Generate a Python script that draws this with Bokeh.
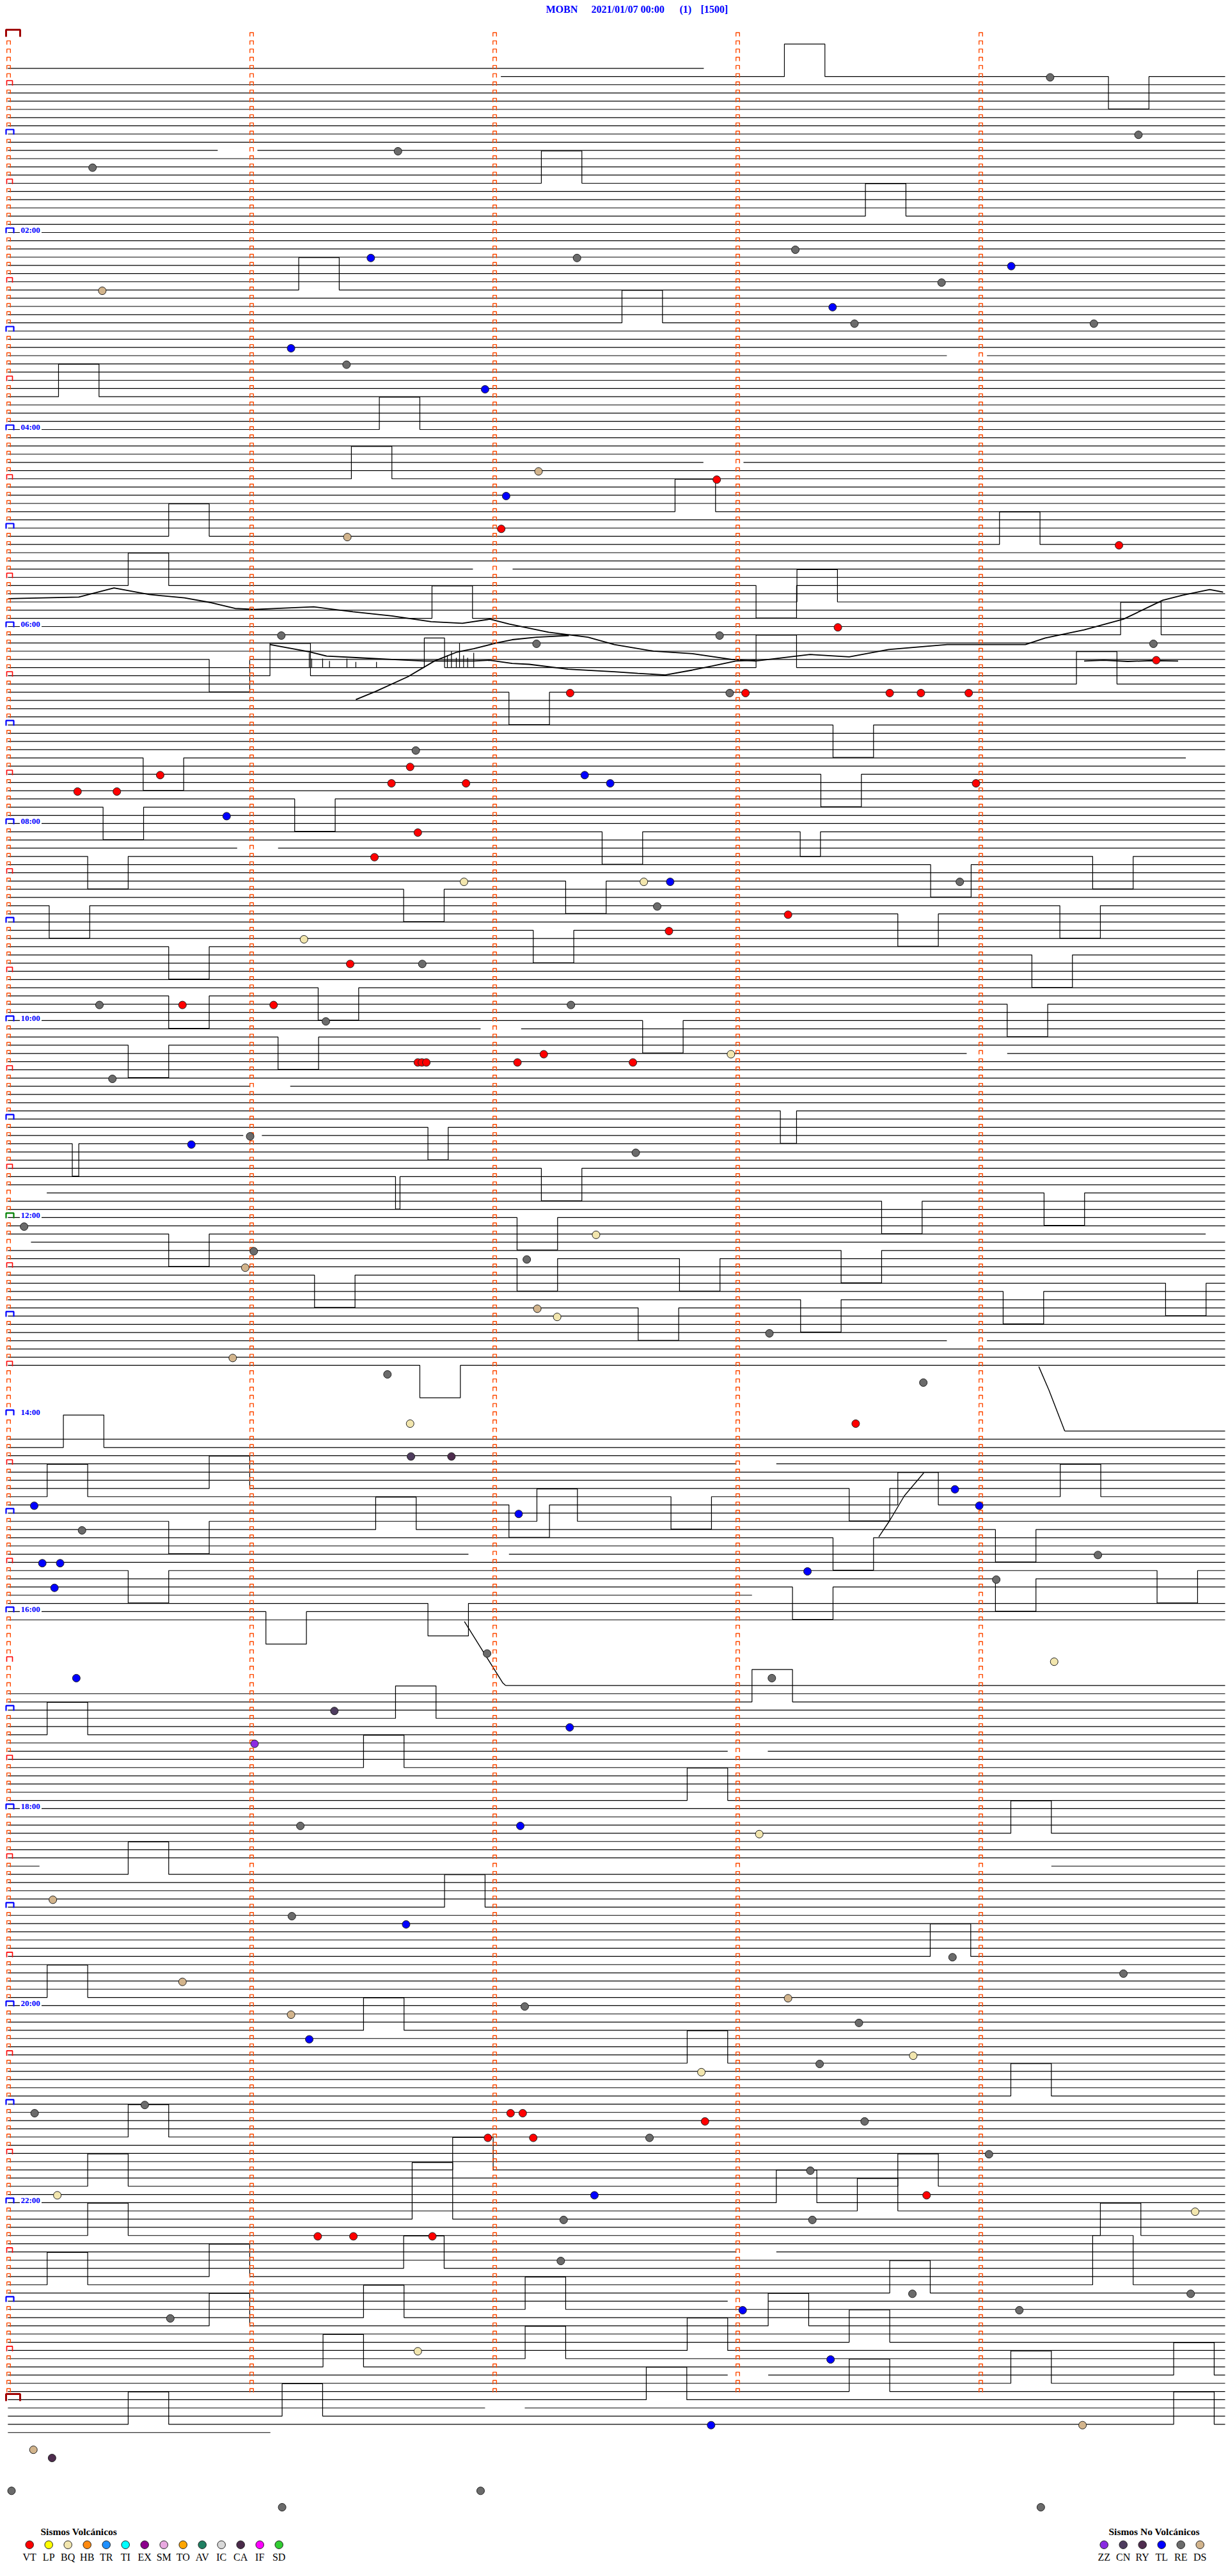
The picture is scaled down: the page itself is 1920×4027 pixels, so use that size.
from bokeh.plotting import figure
from bokeh.models import Range1d
from bokeh.embed import file_html
from bokeh.resources import INLINE
from bokeh.core.properties import value

# ---------------------------------------------------------------- data
TITLE_PARTS = ["MOBN", "2021/01/07 00:00", "(1)", "[1500]"]
ROW_SECONDS = 300                      # each trace row = 5 minutes
ROW_FIRST, ROW_LAST = 4, 292
MISSING_ROWS = list(range(163, 170)) + list(range(194, 201))
PARTIAL_ROWS = {4: [(-0.5, 171.3)], 5: [(121.2, 300)], 88: [(-0.5, 290.3)],
                141: [(9.1, 300)], 146: [(-0.5, 295.2)], 147: [(5.2, 300)],
                170: [(260.4, 300)], 190: [(-0.5, 183.2)], 201: [(122.4, 300)],
                223: [(-0.5, 7.3), (257.1, 300)], 292: [(-0.5, 64.3)]}
GAPS = [(14, 51.3, 61.1), (65, 114.3, 124.1), (99, 56.1, 66.2), (39, 231.3, 241.2),
        (52, 171.2, 181.1), (121, 116.2, 126.2), (128, 59.2, 69.2), (134, 57.6, 62.2),
        (124, 236.2, 246.2), (159, 231.3, 241.2), (174, 179.2, 189.2), (185, 113.2, 123.2),
        (209, 177.2, 187.1), (270, 179.2, 189.2), (276, 177.2, 187.2), (285, 177.2, 187.2),
        (289, 117.3, 127.1)]
# calibration-like pulses: (row, start second)
BOXES_UP = [(18, 131.2), (31, 71.3), (44, 12.0), (48, 91.2), (54, 84.3), (61, 39.2), (67, 29.2),
            (71, 104.2), (5, 191.2), (22, 211.2), (35, 151.1), (58, 164.2), (62, 244.3), (69, 194.3),
            (73, 274.2), (77, 184.2), (79, 263.3), (78, 64.2),
            (172, 13.2), (178, 9.2), (177, 49.2), (182, 90.3), (181, 130.1), (178, 259.3), (179, 219.2),
            (205, 95.2), (207, 9.2), (211, 87.3), (224, 29.2), (228, 107.3), (239, 9.2), (243, 87.3),
            (256, 29.2), (262, 19.2), (260, 109.3), (268, 19.2), (272, 97.2), (274, 9.2), (273, 49.2),
            (277, 127.2), (278, 87.3), (279, 49.2), (284, 77.3), (283, 127.2), (291, 29.2), (290, 67.2),
            (203, 183.2), (215, 167.2), (219, 247.1), (234, 227.2), (247, 167.2), (251, 247.1),
            (264, 189.2), (265, 209.2), (262, 219.2), (268, 269.2), (275, 217.2), (279, 187.2),
            (281, 207.2), (282, 167.2), (285, 287.3), (286, 247.1), (287, 207.2), (288, 157.1),
            (291, 287.3)]
BOXES_DOWN = [(76, 49.2), (80, 123.2), (88, 32.9), (94, 23.0), (93, 70.3), (5, 271.2), (67, 184.2),
              (84, 203.2), (90, 200.2), (97, 146.2),
              (100, 19.2), (104, 97.2), (103, 137.2), (106, 9.7), (111, 39.2), (109, 129.2),
              (117, 39.2), (116, 76.1), (123, 29.2), (122, 66.2), (138, 131.2), (144, 125.2),
              (149, 125.2), (146, 39.2), (151, 75.2), (162, 101.2), (179, 123.2), (181, 39.2),
              (187, 29.2), (192, 63.2), (191, 103.2),
              (101, 227.3), (100, 267.3), (107, 219.2), (106, 259.2), (112, 252.3), (120, 156.2),
              (118, 246.2), (142, 215.2), (141, 255.3), (149, 165.3), (148, 205.2), (155, 155.1),
              (154, 195.2), (153, 245.2), (152, 285.3), (177, 207.2), (178, 163.2), (182, 243.3),
              (183, 203.2), (187, 283.2), (188, 243.3), (189, 193.2)]
# (row, start second, amplitude in rows (negative = up), width seconds)
BOXES_ODD = [(77, 102.3, -3.6, 5), (133, 103.2, 3.95, 5), (135, 15.4, 3.95, 1.6),
             (139, 95.2, 3.95, 1.1), (131, 190.2, 3.95, 4), (97, 195.1, 3.0, 5),
             (266, 99.3, -6.9, 10), (274, 267.3, -6.0, 10)]

# drifting traces around 05:30 - 06:30
DRIFT_A_T = [-0.4, 17, 25.7, 34.4, 43.1, 49.8, 55.6, 60.5, 75, 84.7, 94.3, 104, 111.7, 118.5, 123.3,
             133, 142.7, 149.2, 158.9, 168.5, 178.2, 184, 197.5, 207.2, 216.9, 231.4, 250.7, 255.6,
             265.2, 274.9, 284.6, 289.4, 296.2, 299.5]
DRIFT_A_ROW = [68.6, 68.4, 67.3, 68.1, 68.5, 69.1, 69.8, 69.9, 69.6, 70.2, 70.7, 71.4, 71.6, 71.1, 71.7,
               72.7, 73.3, 74.2, 75.0, 75.3, 76.0, 76.2, 75.4, 75.7, 74.8, 74.2, 74.2, 73.4,
               72.4, 71.1, 68.8, 68.2, 67.5, 67.8]
DRIFT_B_T = [64.2, 74.2, 78.2, 86.2, 94.3, 102.3, 114.5, 118.4, 124, 128.2, 137.8, 149.2, 155,
             161.8, 168.5, 173.4, 179.2, 184]
DRIFT_B_ROW = [74.2, 75.1, 75.6, 75.8, 76.0, 76.2, 76.2, 76.1, 76.5, 76.6, 77.2, 77.5, 77.7,
               77.9, 77.3, 76.8, 76.2, 76.1]
DRIFT_C_T = [85.4, 90.3, 98.3, 104.8, 110.4, 114.5, 120.1, 124, 130, 138]
DRIFT_C_ROW = [80.9, 79.9, 78.1, 76.2, 75.1, 74.7, 74.0, 73.6, 73.3, 73.1]
DRIFT_D_T = [265.2, 270, 276, 282, 288.4]
DRIFT_D_ROW = [76.2, 76.1, 76.25, 76.15, 76.2]
SPIKE_BASE = 77
SPIKE_T = [73.9, 74.5, 77.2, 78.9, 83.2, 85.4, 90.5, 108.0, 109.0, 110.2, 111.0, 112.0, 113.0, 114.5]
SPIKE_TOP = [75.2, 75.9, 75.9, 76.2, 75.9, 76.3, 76.3, 75.5, 75.0, 75.8, 74.0, 75.5, 75.8, 75.2]
# sloping segments
DIAG1_T, DIAG1_ROW = [254.0, 256.5, 260.4], [162.15, 165.0, 170.0]
DIAG2_T, DIAG2_ROW = [112.2, 117.0, 121.7, 122.4], [193.2, 197.0, 200.7, 201.0]
DIAG3_T, DIAG3_ROW = [214.5, 217.2, 220.8, 225.6], [182.9, 180.9, 177.9, 175.1]

# classified events: row (5-minute line), second within the row, class
EV_ROW = [16, 14, 27, 27, 31, 38, 40, 43, 53, 56, 60, 61, 73, 74, 80, 87, 89, 90, 91, 91, 92, 92, 90, 91, 95, 97,
          5, 12, 26, 28, 30, 33, 35, 35, 54, 62, 72, 73, 74, 76, 80, 80, 80, 80, 80, 91,
          100, 103, 110, 113, 113, 118, 118, 118, 118, 120, 125, 125, 125, 125, 124, 127, 135, 134, 145,
          148, 150, 149, 146, 155, 156, 161, 163, 169, 173, 173, 179, 182, 180, 186, 186, 189, 197, 200,
          103, 103, 103, 106, 107, 109, 124, 125, 136, 158, 164, 169, 177, 179, 187, 185, 188, 198, 200,
          204, 206, 208, 218, 218, 227, 229, 230, 237, 241, 240, 244, 253, 252, 253, 253, 256, 256, 263,
          263, 266, 268, 268, 268, 271, 278, 282, 294, 295, 299, 301, 299,
          219, 234, 236, 239, 242, 246, 247, 248, 254, 254, 256, 258, 260, 263, 265, 266, 275, 275, 277,
          277, 283, 291, 291, 301]
EV_SEC = [20.4, 95.8, 89.1, 140.0, 22.8, 69.4, 83.1, 117.3, 130.5, 122.5, 121.3, 83.3, 67.0, 130.0, 138.3,
          100.2, 98.8, 37.1, 94.2, 112.6, 16.7, 26.4, 141.9, 148.2, 53.5, 100.7,
          256.8, 278.6, 193.9, 247.2, 230.0, 203.1, 208.5, 267.6, 174.5, 273.8, 204.4, 175.2, 282.3, 283.0,
          177.7, 181.6, 217.2, 224.9, 236.7, 238.5,
          90.0, 112.1, 72.6, 84.0, 101.8, 22.1, 42.6, 65.1, 138.5, 78.0, 100.7, 101.7, 102.8, 125.3, 131.8,
          25.3, 44.8, 59.3, 3.5, 60.2, 58.1, 127.6, 144.7, 130.2, 135.1, 55.0, 93.2, 98.8, 99.0, 109.0,
          6.0, 17.8, 125.6, 8.0, 12.4, 11.0, 117.8, 16.4,
          156.5, 163.0, 234.5, 159.8, 192.1, 162.7, 178.0, 153.8, 154.5, 187.5, 225.5, 208.8, 233.3, 239.3,
          196.9, 268.6, 243.5, 257.8, 188.1,
          80.1, 138.2, 60.4, 71.7, 126.0, 10.6, 69.6, 97.8, 42.6, 69.4, 127.1, 73.9, 6.1, 33.3, 123.6,
          126.6, 118.0, 129.2, 11.7, 144.3, 136.7, 76.0, 84.8, 104.3, 136.0, 39.6, 100.7, 5.8, 10.4, 0.4,
          67.2, 116.2,
          185.0, 232.7, 274.9, 192.1, 209.6, 223.0, 199.9, 170.7, 171.6, 211.0, 157.9, 241.7, 197.6, 226.3,
          292.6, 198.1, 222.8, 291.5, 180.9, 249.2, 202.6, 173.1, 264.8, 254.5]
EV_TYPE = ["RE", "RE", "TL", "RE", "DS", "TL", "RE", "TL", "DS", "TL", "VT", "DS", "RE", "RE", "VT", "RE",
           "VT", "VT", "VT", "VT", "VT", "VT", "TL", "TL", "TL", "VT",
           "RE", "RE", "RE", "TL", "RE", "TL", "RE", "RE", "VT", "VT", "VT", "RE", "RE", "VT", "RE", "VT",
           "VT", "VT", "VT", "VT",
           "VT", "BQ", "BQ", "VT", "RE", "RE", "VT", "VT", "RE", "RE", "VT", "VT", "VT", "VT", "VT", "RE",
           "TL", "RE", "RE", "RE", "DS", "RE", "BQ", "DS", "BQ", "DS", "RE", "BQ", "CN", "RY", "TL", "RE",
           "TL", "TL", "TL", "TL", "RE", "TL",
           "BQ", "TL", "RE", "RE", "VT", "VT", "BQ", "VT", "RE", "RE", "RE", "VT", "TL", "TL", "TL", "RE",
           "RE", "BQ", "RE",
           "CN", "TL", "ZZ", "RE", "TL", "DS", "RE", "TL", "DS", "DS", "RE", "TL", "RE", "RE", "VT", "VT",
           "VT", "VT", "BQ", "TL", "RE", "VT", "VT", "VT", "RE", "RE", "BQ", "DS", "RY", "RE", "RE", "RE",
           "BQ", "RE", "RE", "DS", "RE", "BQ", "RE", "BQ", "VT", "RE", "RE", "RE", "RE", "VT", "BQ", "RE",
           "RE", "RE", "TL", "RE", "TL", "TL", "DS", "RE"]

VOLC_CODES = ["VT", "LP", "BQ", "HB", "TR", "TI", "EX", "SM", "TO", "AV", "IC", "CA", "IF", "SD"]
VOLC_COLORS = ["#ff0000", "#ffff00", "#f2e6ae", "#ff8a10", "#1e90ff", "#00ffff", "#8b008b",
               "#e8a8e0", "#ffa500", "#1f7f62", "#d8d8d8", "#4a2a4a", "#ff00ff", "#32cd32"]
NONVOLC_CODES = ["ZZ", "CN", "RY", "TL", "RE", "DS"]
NONVOLC_COLORS = ["#8a2be2", "#4e3c5e", "#4e2c4e", "#0000ff", "#6b6b6b", "#d2b48c"]
VOLC_TITLE = "Sismos Volcánicos"
NONVOLC_TITLE = "Sismos No Volcánicos"

# ---------------------------------------------------------------- layout helpers
W, H = 1920, 4027
PX_PER_SEC = 380 / 60.0
PX_PER_ROW = 12.833
REF_X0, REF_Y0 = 15.0, 55.0


def tx(px):
    return (px - REF_X0) / PX_PER_SEC


def ky(py):
    return (py - REF_Y0) / PX_PER_ROW


DX = 1 / PX_PER_SEC
DY = 1 / PX_PER_ROW
SERIF = value("Liberation Serif")

p = figure(width=W, height=H, x_range=Range1d(tx(0), tx(W)), y_range=Range1d(ky(H), ky(0)),
           output_backend="svg", toolbar_location=None, min_border=0,
           x_axis_location=None, y_axis_location=None)
p.outline_line_color = None
p.grid.visible = False
p.background_fill_color = "white"
p.border_fill_color = "white"


def subtract(segs, g0, g1):
    out = []
    for s, e in segs:
        if g1 <= s or g0 >= e:
            out.append((s, e))
            continue
        if g0 > s:
            out.append((s, g0))
        if g1 < e:
            out.append((g1, e))
    return out


boxes = ([(r, t, -3.95, 10) for r, t in BOXES_UP] + [(r, t, 3.95, 10) for r, t in BOXES_DOWN]
         + BOXES_ODD)

xs, ys = [], []
for r in range(ROW_FIRST, ROW_LAST + 1):
    if r in MISSING_ROWS:
        continue
    segs = PARTIAL_ROWS.get(r, [(-0.5, ROW_SECONDS)])
    for gr, g0, g1 in GAPS:
        if gr == r:
            segs = subtract(segs, g0, g1)
    rb = sorted([b for b in boxes if b[0] == r], key=lambda b: b[1])
    for s, e in segs:
        px, py = [s], [r]
        for _, t0, a, w in rb:
            if s <= t0 < e:
                px += [t0, t0, t0 + w, t0 + w]
                py += [r, r + a, r + a, r]
        px.append(e)
        py.append(r)
        xs.append(px)
        ys.append(py)
p.multi_line(xs, ys, line_color="black", line_width=1.2)

# drifting traces, spikes, slopes
for dt, dr in [(DRIFT_A_T, DRIFT_A_ROW), (DRIFT_B_T, DRIFT_B_ROW), (DRIFT_C_T, DRIFT_C_ROW),
               (DRIFT_D_T, DRIFT_D_ROW)]:
    p.line(dt, dr, line_color="black", line_width=1.8)
p.segment(x0=SPIKE_T, y0=[SPIKE_BASE] * len(SPIKE_T), x1=SPIKE_T, y1=SPIKE_TOP,
          line_color="black", line_width=1.2)
for dt, dr in [(DIAG1_T, DIAG1_ROW), (DIAG2_T, DIAG2_ROW), (DIAG3_T, DIAG3_ROW)]:
    p.line(dt, dr, line_color="black", line_width=1.4)

# minute markers
COL_SECS = [0, 60, 120, 180, 240]
mk_xs, mk_ys = [], []
for c in COL_SECS:
    cx = tx(13 + c * PX_PER_SEC)
    last = 288 if c == 0 else 287
    for r in range(0, last + 1):
        if c == 0 and r % 6 == 0:
            continue
        mk_xs.append([cx - 2.8 * DX, cx - 2.8 * DX, cx + 2.8 * DX, cx + 2.8 * DX])
        mk_ys.append([r + 1.5 * DY, r - 4.5 * DY, r - 4.5 * DY, r + 1.5 * DY])
p.multi_line(mk_xs, mk_ys, line_color="#ff4a00", line_width=1.4)

# hour / half-hour brackets
groups = {"dark": ([], []), "green": ([], []), "blue": ([], []), "red": ([], [])}
for r in range(0, 289, 6):
    if r % 288 == 0:
        g, x0, x1, top, bot = "dark", 9, 31, 9, 2
    elif r == 144:
        g, x0, x1, top, bot = "green", 9, 21, 7, 1
    elif r % 12 == 0:
        g, x0, x1, top, bot = "blue", 9, 21, 7, 1
    else:
        g, x0, x1, top, bot = "red", 10, 19, 6.5, 1.3
    groups[g][0].append([tx(x0), tx(x0), tx(x1), tx(x1)])
    groups[g][1].append([r + bot * DY, r - top * DY, r - top * DY, r + bot * DY])
styles = {"dark": ("#a00000", 3), "green": ("#008000", 2.2), "blue": ("#0000ff", 2.2),
          "red": ("#ff0000", 1.6)}
for g, (gx, gy) in groups.items():
    p.multi_line(gx, gy, line_color=styles[g][0], line_width=styles[g][1])

# time labels
lab_rows = [12 * h for h in range(2, 23, 2)]
p.quad(left=[tx(30.5)] * len(lab_rows), right=[tx(64.5)] * len(lab_rows),
       top=[r - 8 * DY for r in lab_rows], bottom=[r + 2 * DY for r in lab_rows],
       fill_color="white", line_color=None)
p.text(x=[tx(32)] * len(lab_rows), y=[r - 3.5 * DY for r in lab_rows],
       text=["%02d:00" % (r // 12) for r in lab_rows], text_font=SERIF, text_font_style="bold",
       text_font_size="13px", text_color="#0000ff", text_baseline="middle", text_align="left")

# events
type_color = dict(zip(VOLC_CODES + NONVOLC_CODES, VOLC_COLORS + NONVOLC_COLORS))
p.scatter(x=EV_SEC, y=[r + 0.1 for r in EV_ROW], size=12,
          fill_color=[type_color[t] for t in EV_TYPE], line_color="#202020", line_width=1)

# title
p.text(x=[tx(853), tx(924), tx(1062), tx(1095)], y=[ky(14)] * 4, text=TITLE_PARTS,
       text_font=SERIF, text_font_style="bold", text_font_size="16px", text_color="#0000ff",
       text_baseline="middle", text_align="left")

# legends
vx = [tx(45.7 + 30 * i) for i in range(len(VOLC_CODES))]
nx = [tx(1725.7 + 30 * i) for i in range(len(NONVOLC_CODES))]
p.scatter(vx + nx, [ky(3977.7)] * (len(vx) + len(nx)), size=12.5,
          fill_color=VOLC_COLORS + NONVOLC_COLORS, line_color="#202020", line_width=1)
p.text(vx + nx, [ky(3996.7)] * (len(vx) + len(nx)), text=VOLC_CODES + NONVOLC_CODES,
       text_font=SERIF, text_font_size="16px", text_color="black",
       text_align="center", text_baseline="middle")
p.text([tx(63), tx(1733)], [ky(3957)] * 2, text=[VOLC_TITLE, NONVOLC_TITLE],
       text_font=SERIF, text_font_style="bold", text_font_size="15.5px", text_color="black",
       text_align="left", text_baseline="middle")

open("out.html", "w").write(file_html(p, INLINE))
